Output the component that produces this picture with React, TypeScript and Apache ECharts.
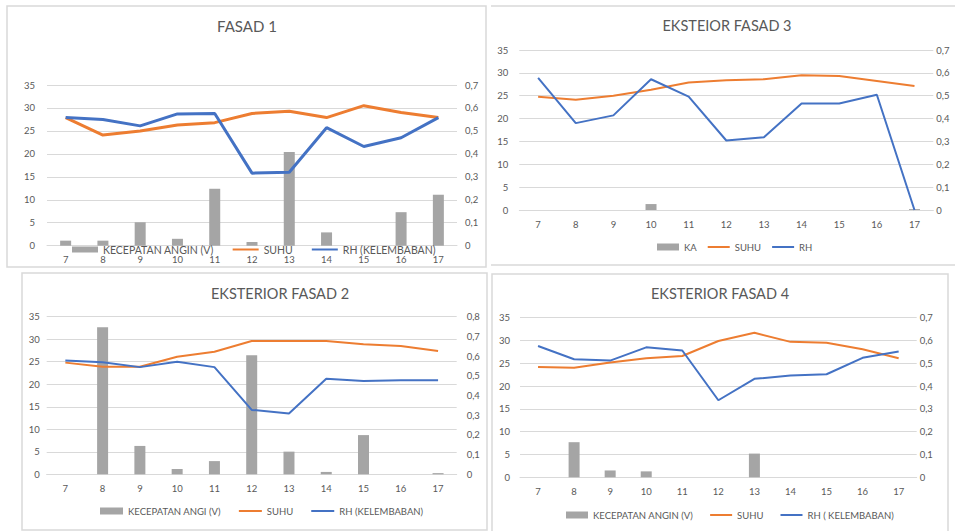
import React, { useEffect, useRef } from 'react';
import * as echarts from 'echarts';

const hours = ['7', '8', '9', '10', '11', '12', '13', '14', '15', '16', '17'];

// FASAD 1 (top left)
const f1Wind = [0.022, 0.022, 0.102, 0.03, 0.248, 0.016, 0.408, 0.058, 0, 0.146, 0.222];
const f1Suhu = [27.9, 24.1, 25.0, 26.3, 26.8, 28.8, 29.3, 27.9, 30.5, 29.0, 27.9];
const f1Rh = [0.558, 0.55, 0.522, 0.574, 0.576, 0.316, 0.32, 0.514, 0.432, 0.47, 0.558];

// EKSTEIOR FASAD 3 (top right)
const f3Wind = [0, 0, 0, 0.026, 0, 0, 0, 0, 0, 0, 0.004];
const f3Suhu = [24.8, 24.1, 25.0, 26.3, 27.9, 28.4, 28.6, 29.5, 29.3, 28.2, 27.1];
const f3Rh = [0.578, 0.38, 0.414, 0.572, 0.496, 0.304, 0.318, 0.466, 0.466, 0.504, 0];

// EKSTERIOR FASAD 2 (bottom left)
const f2Wind = [0, 0.746, 0.144, 0.027, 0.067, 0.604, 0.115, 0.012, 0.199, 0, 0.006];
const f2Suhu = [24.8, 23.9, 23.9, 26.1, 27.2, 29.6, 29.6, 29.6, 28.9, 28.5, 27.4];
const f2Rh = [0.578, 0.569, 0.544, 0.571, 0.544, 0.327, 0.309, 0.485, 0.473, 0.478, 0.478];

// EKSTERIOR FASAD 4 (bottom right)
const f4Wind = [0, 0.154, 0.03, 0.026, 0, 0, 0.104, 0, 0, 0, 0];
const f4Suhu = [24.2, 24.0, 25.2, 26.1, 26.6, 29.9, 31.7, 29.7, 29.5, 28.1, 26.1];
const f4Rh = [0.576, 0.518, 0.512, 0.57, 0.556, 0.338, 0.432, 0.446, 0.452, 0.524, 0.552];

const titles = ['FASAD 1', 'EKSTEIOR FASAD 3', 'EKSTERIOR FASAD 2', 'EKSTERIOR FASAD 4'];
const windNames = ['KECEPATAN ANGIN (V)', 'KA', 'KECEPATAN ANGI (V)', 'KECEPATAN ANGIN (V)'];
const rhNames = ['RH (KELEMBABAN)', 'RH', 'RH (KELEMBABAN)', 'RH ( KELEMBABAN)'];
const rightMax = [0.7, 0.7, 0.8, 0.7];

const FONT = 'Lato, "Open Sans", sans-serif';
const GREY = '#A5A5A5';
const ORANGE = '#ED7D31';
const BLUE = '#4472C4';
const TXT = '#595959';
const GRID = '#D9D9D9';

const layout = [
  { grid: { left: 47, top: 85, width: 410, height: 160.7 }, title: { x: 247, y: 18, size: 15 }, legend: { left: 72, top: 244, gap: 18, w: 26, h: 6, fs: 10.5 }, lm: 12, rm: 8, lw: 3 },
  { grid: { left: 519.3, top: 50, width: 414, height: 160 }, title: { x: 727, y: 18, size: 14.5 }, legend: { left: 657, top: 242, gap: 10, w: 22, h: 7, fs: 9.5 }, lm: 11, rm: 3, lw: 2 },
  { grid: { left: 46.7, top: 316.7, width: 410, height: 157.6 }, title: { x: 280, y: 286, size: 14.5 }, legend: { left: 100, top: 506, gap: 17, w: 23, h: 7, fs: 9.5 }, lm: 7, rm: 10, lw: 2 },
  { grid: { left: 520, top: 317.7, width: 396.7, height: 159.6 }, title: { x: 720, y: 286, size: 14.5 }, legend: { left: 566, top: 510, gap: 16, w: 22, h: 7, fs: 9.5 }, lm: 10, rm: 3, lw: 2 },
];

const panelData = [
  [f1Wind, f1Suhu, f1Rh],
  [f3Wind, f3Suhu, f3Rh],
  [f2Wind, f2Suhu, f2Rh],
  [f4Wind, f4Suhu, f4Rh],
];

function fmtRight(v: number) {
  if (Math.abs(v) < 1e-9) return '0';
  return v.toFixed(1).replace('.', ',');
}

function buildOption() {
  const grid: any[] = [];
  const xAxis: any[] = [];
  const yAxis: any[] = [];
  const series: any[] = [];
  const legend: any[] = [];
  const title: any[] = [];

  layout.forEach((L, i) => {
    grid.push({ ...L.grid, containLabel: false });
    xAxis.push({
      type: 'category',
      gridIndex: i,
      data: hours,
      axisLine: { show: true, lineStyle: { color: GRID, width: 1 } },
      axisTick: { show: false },
      axisLabel: { color: TXT, fontSize: 9.5, fontFamily: FONT, margin: 9 },
    });
    yAxis.push({
      type: 'value',
      gridIndex: i,
      min: 0,
      max: 35,
      interval: 5,
      axisLine: { show: false },
      axisTick: { show: false },
      splitLine: { show: true, lineStyle: { color: GRID, width: 1 } },
      axisLabel: { color: TXT, fontSize: 9.5, fontFamily: FONT, margin: L.lm },
    });
    yAxis.push({
      type: 'value',
      gridIndex: i,
      position: 'right',
      min: 0,
      max: rightMax[i],
      interval: 0.1,
      axisLine: { show: false },
      axisTick: { show: false },
      splitLine: { show: false },
      axisLabel: { color: TXT, fontSize: 9.5, fontFamily: FONT, margin: L.rm, formatter: fmtRight },
    });
    const [w, s, r] = panelData[i];
    series.push({
      type: 'bar',
      name: windNames[i],
      xAxisIndex: i,
      yAxisIndex: 2 * i + 1,
      data: w,
      barWidth: 11,
      itemStyle: { color: GREY },
    });
    series.push({
      type: 'line',
      name: 'SUHU',
      xAxisIndex: i,
      yAxisIndex: 2 * i,
      data: s,
      symbol: 'none',
      lineStyle: { color: ORANGE, width: L.lw },
      itemStyle: { color: ORANGE },
    });
    series.push({
      type: 'line',
      name: rhNames[i],
      xAxisIndex: i,
      yAxisIndex: 2 * i + 1,
      data: r,
      symbol: 'none',
      lineStyle: { color: BLUE, width: L.lw },
      itemStyle: { color: BLUE },
    });
    legend.push({
      left: L.legend.left,
      top: L.legend.top,
      padding: 0,
      itemGap: L.legend.gap,
      itemWidth: L.legend.w,
      itemHeight: L.legend.h,
      selectedMode: false,
      textStyle: { color: TXT, fontSize: L.legend.fs, fontFamily: FONT },
      data: [
        { name: windNames[i], icon: 'rect' },
        { name: 'SUHU', itemStyle: { opacity: 0 } },
        { name: rhNames[i], itemStyle: { opacity: 0 } },
      ],
    });
    title.push({
      text: titles[i],
      left: L.title.x,
      top: L.title.y,
      textAlign: 'center',
      padding: 0,
      textStyle: { color: TXT, fontSize: L.title.size, fontWeight: 'normal', fontFamily: FONT },
    });
  });

  const border = { stroke: GRID, fill: 'none', lineWidth: 1.5 };
  const graphic = [
    { type: 'rect', shape: { x: 7, y: 6, width: 479, height: 261 }, style: border, silent: true, z: -10 },
    { type: 'line', shape: { x1: 491, y1: 6, x2: 955, y2: 6 }, style: { stroke: GRID, lineWidth: 1.5 }, silent: true },
    { type: 'line', shape: { x1: 491, y1: 265, x2: 955, y2: 265 }, style: { stroke: GRID, lineWidth: 1.5 }, silent: true },
    { type: 'rect', shape: { x: 22, y: 273, width: 465, height: 257 }, style: border, silent: true, z: -10 },
    { type: 'rect', shape: { x: 492, y: 274, width: 456, height: 262 }, style: border, silent: true, z: -10 },
  ];

  return {
    animation: false,
    backgroundColor: '#ffffff',
    textStyle: { fontFamily: FONT },
    title,
    legend,
    grid,
    xAxis,
    yAxis,
    series,
    graphic,
  };
}

export default function App() {
  const ref = useRef<HTMLDivElement>(null);
  useEffect(() => {
    if (!ref.current) return;
    const chart = echarts.init(ref.current, undefined, { renderer: 'svg' });
    chart.setOption(buildOption() as any);
    return () => chart.dispose();
  }, []);
  return (
    <div
      ref={ref}
      style={{ position: 'fixed', left: 0, top: 0, width: 955, height: 531, background: '#fff' }}
    />
  );
}
